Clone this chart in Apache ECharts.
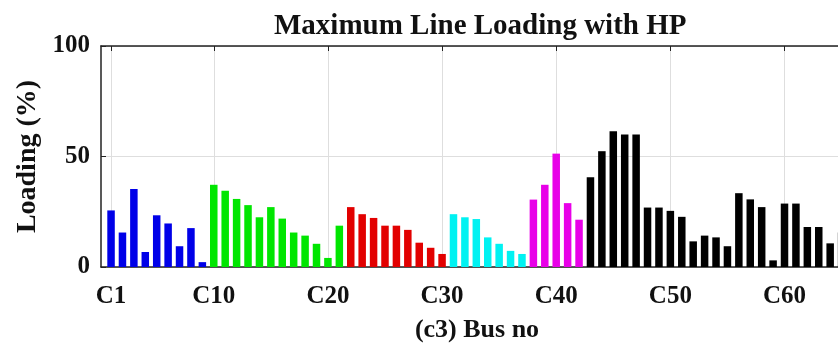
<!DOCTYPE html>
<html>
<head>
<meta charset="utf-8">
<script src="https://cdn.jsdelivr.net/npm/echarts@6/dist/echarts.min.js"></script>
<style>html,body{margin:0;padding:0;background:#fff;}#c{width:838px;height:344px;}</style>
</head>
<body>
<div id="c"></div>
<script>
// Loading (%) per bus, grouped by colour block
var blueVals    = [25.6, 15.6, 35.3, 6.8, 23.4, 19.7, 9.4, 17.6, 2.2];                       // C1-C9
var greenVals   = [37.2, 34.5, 30.8, 28.0, 22.5, 27.1, 21.9, 15.6, 14.2, 10.5, 4.1, 18.7];   // C10-C21
var redVals     = [27.1, 23.9, 22.2, 18.7, 18.7, 16.8, 11.0, 8.7, 5.9];                      // C22-C30
var cyanVals    = [23.9, 22.5, 21.7, 13.4, 10.5, 7.3, 5.9];                                  // C31-C37
var magentaVals = [30.5, 37.2, 51.3, 28.9, 21.4];                                            // C38-C42
var blackVals   = [40.6, 52.4, 61.4, 59.9, 59.9, 26.9, 26.9, 25.4, 22.7, 11.6, 14.2, 13.4, 9.4,
                   33.4, 30.6, 27.1, 3.0, 28.7, 28.7, 18.1, 18.1, 10.7, 15.6];               // C43-C65
var xTickValues = [1, 10, 20, 30, 40, 50, 60];
var xTickLabels = ['C1', 'C10', 'C20', 'C30', 'C40', 'C50', 'C60'];
var yTicks = [0, 50, 100];

var groups = [
  [blueVals, '#0000E8'],
  [greenVals, '#00E600'],
  [redVals, '#E20000'],
  [cyanVals, '#00F2F2'],
  [magentaVals, '#E800E8'],
  [blackVals, '#000000']
];
var data = [];
var idx = 1;
groups.forEach(function (g) {
  g[0].forEach(function (v) {
    data.push({ value: [idx, v], itemStyle: { color: g[1] } });
    idx++;
  });
});

var font = 'Liberation Serif';
var chart = echarts.init(document.getElementById('c'), null, { renderer: 'canvas' });
chart.setOption({
  animation: false,
  backgroundColor: '#fff',
  title: {
    text: 'Maximum Line Loading with HP',
    left: 269, top: 7,
    textStyle: { fontFamily: font, fontWeight: 'bold', fontSize: 29, color: '#111' }
  },
  grid: { left: 101, top: 46, bottom: 77, right: -15, containLabel: false, outerBoundsMode: 'none' },
  xAxis: [{
    type: 'value', min: 0.12, max: 66,
    position: 'bottom',
    name: '(c3) Bus no', nameLocation: 'middle', nameGap: 50,
    nameTextStyle: { fontFamily: font, fontWeight: 'bold', fontSize: 26, color: '#111' },
    axisLine: { show: true, onZero: false, lineStyle: { color: '#222', width: 1.5 } },
    axisTick: { show: true, inside: true, length: 5, customValues: xTickValues, lineStyle: { color: '#222' } },
    axisLabel: {
      customValues: xTickValues, margin: 17,
      fontFamily: font, fontWeight: 'bold', fontSize: 25, color: '#111',
      formatter: function (v) { return xTickLabels[xTickValues.indexOf(v)]; }
    },
    splitLine: { show: true, lineStyle: { color: '#dedede', width: 1 } }
  }, {
    type: 'value', min: 0.12, max: 66,
    position: 'top',
    axisLine: { show: true, onZero: false, lineStyle: { color: '#222', width: 1.5 } },
    axisTick: { show: true, inside: true, length: 5, customValues: xTickValues, lineStyle: { color: '#222' } },
    axisLabel: { show: false },
    splitLine: { show: false }
  }],
  yAxis: {
    type: 'value', min: 0, max: 100, interval: 50,
    name: 'Loading (%)', nameLocation: 'middle', nameGap: 58, nameRotate: 90,
    nameTextStyle: { fontFamily: font, fontWeight: 'bold', fontSize: 28, color: '#111' },
    axisLine: { show: true, lineStyle: { color: '#222', width: 1.5 } },
    axisTick: { show: true, inside: true, length: 5, lineStyle: { color: '#222' } },
    axisLabel: {
      margin: 11, fontFamily: font, fontWeight: 'bold', fontSize: 25, color: '#111',
      formatter: function (v) { return yTicks.indexOf(v) >= 0 ? String(v) : ''; }
    },
    splitLine: { show: true, lineStyle: { color: '#dedede', width: 1 } }
  },
  series: [{
    type: 'bar',
    xAxisIndex: 0,
    barWidth: 7.5,
    data: data
  }]
});
</script>
</body>
</html>
